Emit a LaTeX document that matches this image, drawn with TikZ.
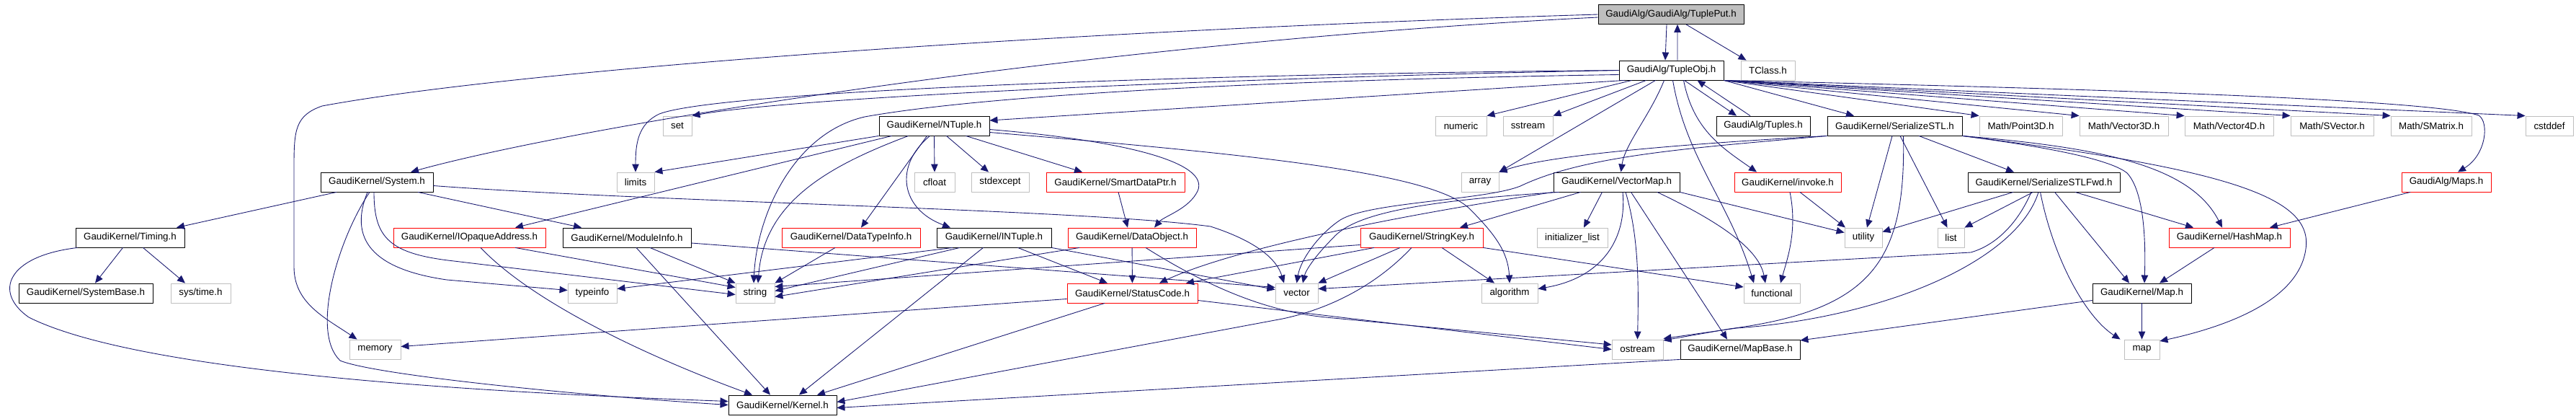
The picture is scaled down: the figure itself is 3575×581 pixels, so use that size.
\documentclass[tikz,border=0pt]{standalone}
\usepackage{fontspec}
\setmainfont{Liberation Sans}
\usetikzlibrary{arrows.meta}

\begin{document}
\begin{tikzpicture}[x=0.02cm,y=-0.02cm,line join=round,
    hdr/.style={draw=black,fill=white,line width=0.5pt,inner sep=0pt,
                minimum height=0.54cm,font=\fontsize{7.6}{9}\selectfont},
    hdrred/.style={hdr,draw=red},
    hdrsys/.style={hdr,draw=doxSys},
    hdrroot/.style={hdr,fill=doxSys},
    bw/.style={minimum width=#1*0.02cm},
    dep/.style={doxEdge,line width=0.5pt,-{Triangle[length=0.22cm,width=0.19cm]}}]
  \definecolor{doxEdge}{HTML}{191970}
  \definecolor{doxSys}{HTML}{BFBFBF}
  \useasboundingbox (0,0) rectangle (3575,581);

  % Root and first level.
  \node[hdrroot,bw=202] (tp) at (2319,20) {GaudiAlg/GaudiAlg/TuplePut.h};
  \node[hdr,bw=145] (tobj) at (2319.5,97.5) {GaudiAlg/TupleObj.h};
  \node[hdrsys,bw=75] (tclass) at (2453.5,97.5) {TClass.h};

  \node[hdrsys,bw=40] (set) at (940,174.5) {set};
  \node[hdr,bw=153] (ntuple) at (1296.5,174.5) {GaudiKernel/NTuple.h};
  \node[hdrsys,bw=71] (numeric) at (2027.5,174.5) {numeric};
  \node[hdrsys,bw=69] (sstream) at (2120.5,174.5) {sstream};
  \node[hdr,bw=130] (tuples) at (2447,174.5) {GaudiAlg/Tuples.h};
  \node[hdr,bw=187] (serstl) at (2629.5,174.5) {GaudiKernel/SerializeSTL.h};
  \node[hdrsys,bw=115] (point3d) at (2804.5,174.5) {Math/Point3D.h};
  \node[hdrsys,bw=123] (vec3d) at (2947.5,174.5) {Math/Vector3D.h};
  \node[hdrsys,bw=123] (vec4d) at (3093.5,174.5) {Math/Vector4D.h};
  \node[hdrsys,bw=115] (svector) at (3236.5,174.5) {Math/SVector.h};
  \node[hdrsys,bw=112] (smatrix) at (3374,174.5) {Math/SMatrix.h};
  \node[hdrsys,bw=66] (cstddef) at (3538,174.5) {cstddef};

  \node[hdr,bw=156] (system) at (523,252.5) {GaudiKernel/System.h};
  \node[hdrsys,bw=52] (limits) at (882,252.5) {limits};
  \node[hdrsys,bw=56] (cfloat) at (1297,252.5) {cfloat};
  \node[hdrsys,bw=80] (stdexcept) at (1388,252.5) {stdexcept};
  \node[hdrred,bw=192] (smartptr) at (1548,252.5) {GaudiKernel/SmartDataPtr.h};
  \node[hdrsys,bw=52] (array) at (2054,252.5) {array};
  \node[hdr,bw=175] (vecmap) at (2243.5,252.5) {GaudiKernel/VectorMap.h};
  \node[hdrred,bw=148] (invoke) at (2481,252.5) {GaudiKernel/invoke.h};
  \node[hdr,bw=211] (serfwd) at (2836.5,252.5) {GaudiKernel/SerializeSTLFwd.h};
  \node[hdrred,bw=124] (maps) at (3395,252.5) {GaudiAlg/Maps.h};

  \node[hdr,bw=151] (timing) at (180.5,329.5) {GaudiKernel/Timing.h};
  \node[hdrred,bw=211] (opaque) at (651.5,329.5) {GaudiKernel/IOpaqueAddress.h};
  \node[hdr,bw=178] (modinfo) at (870,329.5) {GaudiKernel/ModuleInfo.h};
  \node[hdrred,bw=192] (dtinfo) at (1181,329.5) {GaudiKernel/DataTypeInfo.h};
  \node[hdr,bw=159] (intuple) at (1379.5,329.5) {GaudiKernel/INTuple.h};
  \node[hdrred,bw=178] (dataobj) at (1571,329.5) {GaudiKernel/DataObject.h};
  \node[hdrred,bw=170] (strkey) at (1973,329.5) {GaudiKernel/StringKey.h};
  \node[hdrsys,bw=98] (initlist) at (2182,329.5) {initializer\_list};
  \node[hdrsys,bw=52] (utility) at (2586,329.5) {utility};
  \node[hdrsys,bw=37] (list) at (2707.5,329.5) {list};
  \node[hdrred,bw=168] (hashmap) at (3094,329.5) {GaudiKernel/HashMap.h};

  \node[hdr,bw=186] (sysbase) at (119,406.5) {GaudiKernel/SystemBase.h};
  \node[hdrsys,bw=83] (systime) at (278.5,406.5) {sys/time.h};
  \node[hdrsys,bw=68] (typeinfo) at (822,406.5) {typeinfo};
  \node[hdrsys,bw=54] (string) at (1048,406.5) {string};
  \node[hdrred,bw=181] (statcode) at (1571.5,406.5) {GaudiKernel/StatusCode.h};
  \node[hdrsys,bw=59] (vector) at (1799.5,406.5) {vector};
  \node[hdrsys,bw=78] (algorithm) at (2095,406.5) {algorithm};
  \node[hdrsys,bw=78] (functional) at (2459,406.5) {functional};
  \node[hdr,bw=137] (mapH) at (2972.5,406.5) {GaudiKernel/Map.h};

  \node[hdrsys,bw=71] (memory) at (520.5,484.5) {memory};
  \node[hdrsys,bw=71] (ostream) at (2272.5,484.5) {ostream};
  \node[hdr,bw=166] (mapbase) at (2415,484.5) {GaudiKernel/MapBase.h};
  \node[hdrsys,bw=49] (map) at (2972.5,484.5) {map};
  \node[hdr,bw=150] (kernel) at (1086,561.5) {GaudiKernel/Kernel.h};

  % TuplePut.h
  \draw[dep] ([xshift=-0.12cm]tp.south) -- ([xshift=-0.17cm]tobj.north);
  \draw[dep] ([xshift=0.17cm]tobj.north) -- ([xshift=0.18cm]tp.south);
  \draw[dep] ([xshift=0.42cm]tp.south) -- ([xshift=-0.6cm]tclass.north);
  \draw[dep] ([yshift=-0.08cm]tp.west) .. controls (1500,60) and (800,175) .. ([xshift=0.94cm]system.north);
  \draw[dep] (tp.west) .. controls (1400,45) and (700,100) .. (447,147)
    .. controls (410,160) and (408,180) .. (408,230) -- (408,370)
    .. controls (408,420) and (450,440) .. ([xshift=-0.5cm]memory.north);

  % TupleObj.h
  \draw[dep] (tobj.west) .. controls (1700,108) and (1100,135) .. (set.north east);
  \draw[dep] (tobj.west) .. controls (1700,102) and (1000,125) .. (915,158)
    .. controls (885,172) and (882,200) .. (limits.north);
  \draw[dep] ([yshift=-0.12cm]tobj.west) .. controls (1700,112) and (1350,135) .. (1200,162)
    .. controls (1100,185) and (1050,300) .. ([xshift=-0.04cm]string.north);
  \draw[dep] ([xshift=-1.3cm]tobj.south) -- ([yshift=0.15cm]ntuple.east);
  \draw[dep] ([xshift=-1.1cm]tobj.south) -- (numeric.north east);
  \draw[dep] ([xshift=-0.7cm]tobj.south) -- (sstream.north east);
  \draw[dep] ([xshift=-0.44cm]tobj.south) -- (array.north east);
  \draw[dep] ([xshift=-0.2cm]tobj.south) .. controls (2290,160) and (2255,200) .. ([xshift=0.12cm]vecmap.north);
  \draw[dep] ([xshift=0.36cm]tobj.south) -- ([xshift=-0.74cm]tuples.north);
  \draw[dep] ([xshift=-0.36cm]tuples.north) -- ([xshift=0.72cm]tobj.south);
  \draw[dep] ([xshift=0.04cm]tobj.south) .. controls (2340,220) and (2400,280) .. ([xshift=-0.5cm]functional.north);
  \draw[dep] ([xshift=0.34cm]tobj.south) .. controls (2350,180) and (2390,205) .. ([xshift=-0.86cm]invoke.north);
  \draw[dep] (tobj.south east) -- ([xshift=-1.13cm]serstl.north);
  \foreach \m in {point3d,vec3d,vec4d,svector,smatrix,cstddef}
    \draw[dep] (tobj.south east) -- (\m.north west);
  \draw[dep] (tobj.south east) .. controls (3000,125) and (3380,140) .. (3440,160)
    .. controls (3455,170) and (3450,215) .. ([xshift=0.32cm]maps.north);

  % NTuple.h
  \draw[dep] (ntuple.south west) -- (limits.north east);
  \draw[dep] ([xshift=0.36cm]ntuple.south west) -- ([xshift=1.27cm]opaque.north);
  \draw[dep] ([xshift=0.82cm]ntuple.south west) .. controls (1150,230) and (1060,280) .. ([xshift=0.08cm]string.north);
  \draw[dep] ([xshift=-0.2cm]ntuple.south) -- ([xshift=0.28cm]dtinfo.north);
  \draw[dep] ([xshift=-0.12cm]ntuple.south) .. controls (1240,230) and (1250,290) .. ([xshift=-1.21cm]intuple.north);
  \draw[dep] (ntuple.south) -- (cfloat.north);
  \draw[dep] ([xshift=0.34cm]ntuple.south) -- ([xshift=-0.32cm]stdexcept.north);
  \draw[dep] ([xshift=0.88cm]ntuple.south) -- ([xshift=-0.92cm]smartptr.north);
  \draw[dep] ([yshift=-0.1cm]ntuple.east) .. controls (1560,195) and (1680,225) .. (1662,265)
    .. controls (1650,290) and (1615,300) .. ([xshift=0.62cm]dataobj.north);
  \draw[dep] ([yshift=-0.18cm]ntuple.east) .. controls (1750,215) and (1990,240) .. (2040,290)
    .. controls (2075,325) and (2093,350) .. (algorithm.north);

  % System.h and Timing.h
  \draw[dep] ([xshift=-1.12cm]system.south) -- ([xshift=1.29cm]timing.north);
  \draw[dep] ([xshift=-0.2cm]system.south) .. controls (470,330) and (430,460) .. (472,500)
    .. controls (520,520) and (800,548) .. (kernel.west);
  \draw[dep] ([xshift=-0.26cm]system.south) .. controls (480,340) and (530,375) .. (620,388)
    -- ([yshift=0.08cm]typeinfo.west);
  \draw[dep] ([xshift=-0.08cm]system.south) .. controls (519,330) and (540,352) .. (630,362)
    -- ([yshift=-0.04cm]string.west);
  \draw[dep] ([xshift=1.14cm]system.south) -- ([xshift=-1.26cm]modinfo.north);
  \draw[dep] ([yshift=-0.1cm]system.east) .. controls (900,280) and (1500,290) .. (1680,314)
    .. controls (1745,335) and (1772,360) .. ([xshift=-0.35cm]vector.north);
  \draw[dep] ([xshift=-0.2cm]timing.south) -- ([xshift=0.26cm]sysbase.north);
  \draw[dep] ([xshift=0.36cm]timing.south) -- ([xshift=-0.43cm]systime.north);
  \draw[dep] ([xshift=-1.46cm]timing.south) .. controls (10,355) and (-10,405) .. (40,440)
    .. controls (200,520) and (700,545) .. ([yshift=0.1cm]kernel.west);

  % Kernel headers, row by row
  \draw[dep] ([xshift=0.31cm]opaque.south) .. controls (740,420) and (900,495) .. ([xshift=-0.84cm]kernel.north);
  \draw[dep] ([xshift=1.27cm]opaque.south) -- ([yshift=0.16cm]string.west);
  \draw[dep] ([xshift=0.64cm]modinfo.south) -- (string.north west);
  \draw[dep] ([xshift=0.26cm]modinfo.south) -- ([xshift=-0.34cm]kernel.north);
  \draw[dep] ([yshift=-0.15cm]modinfo.east) -- ([yshift=0.16cm]vector.west);
  \draw[dep] ([xshift=-0.44cm]dtinfo.south) -- (string.north east);
  \draw[dep] ([xshift=-1.15cm]intuple.south) -- ([yshift=0.12cm]typeinfo.east);
  \draw[dep] ([xshift=-0.95cm]intuple.south) -- ([yshift=0.06cm]string.east);
  \draw[dep] ([xshift=0.66cm]intuple.south) -- ([xshift=-0.69cm]statcode.north);
  \draw[dep] ([xshift=-0.3cm]intuple.south) -- ([xshift=0.46cm]kernel.north);
  \draw[dep] (intuple.south east) -- ([yshift=0.1cm]vector.west);
  \draw[dep] ([xshift=0.08cm]smartptr.south) -- ([xshift=-0.12cm]dataobj.north);
  \draw[dep] (dataobj) -- (statcode);
  \draw[dep] ([xshift=-1.46cm]dataobj.south) -- ([yshift=-0.1cm]string.east);
  \draw[dep] ([xshift=0.38cm]dataobj.south) .. controls (1680,400) and (1760,432) .. (1840,440)
    -- ([yshift=0.13cm]ostream.west);
  \draw[dep] ([yshift=-0.16cm]statcode.west) -- ([yshift=0.08cm]memory.east);
  \draw[dep] ([xshift=-0.77cm]statcode.south) -- ([xshift=0.96cm]kernel.north);
  \draw[dep] ([yshift=-0.2cm]statcode.east) -- (ostream.west);

  % StringKey.h, VectorMap.h, invoke.h
  \draw[dep] ([xshift=-0.6cm]strkey.south) -- (vector.north east);
  \draw[dep] ([xshift=0.56cm]strkey.south) -- ([xshift=-0.42cm]algorithm.north);
  \draw[dep] ([xshift=-0.28cm]strkey.south) .. controls (1920,385) and (1860,425) .. (1780,442)
    -- ([yshift=0.08cm]kernel.east);
  \draw[dep] ([yshift=-0.2cm]strkey.west) -- ([yshift=0.18cm]string.east);
  \draw[dep] ([xshift=-1.32cm]strkey.south) -- ([xshift=1.49cm]statcode.north);
  \draw[dep] (strkey.south east) -- ([yshift=0.17cm]functional.west);
  \draw[dep] ([xshift=-1.0cm]vecmap.south) -- ([xshift=1.06cm]strkey.north);
  \draw[dep] ([xshift=-0.4cm]vecmap.south) -- ([xshift=0.32cm]initlist.north);
  \draw[dep] ([xshift=0.17cm]vecmap.south) .. controls (2258,330) and (2225,385) .. ([yshift=0.12cm]algorithm.east);
  \draw[dep] ([xshift=0.25cm]vecmap.south) .. controls (2275,330) and (2274,400) .. (ostream.north);
  \draw[dep] ([xshift=0.4cm]vecmap.south) -- ([xshift=-0.36cm]mapbase.north);
  \draw[dep] ([xshift=1.13cm]vecmap.south) .. controls (2370,300) and (2440,340) .. ([xshift=-0.18cm]functional.north);
  \draw[dep] (vecmap.south east) -- ([yshift=0.14cm]utility.west);
  \draw[dep] ([xshift=-1.6cm]vecmap.south) .. controls (1980,278) and (1880,295) .. (1850,330)
    .. controls (1825,355) and (1812,375) .. ([xshift=0.17cm]vector.north);
  \draw[dep] (vecmap.south west) .. controls (1900,305) and (1700,350) .. ([xshift=0.75cm]statcode.north);
  \draw[dep] ([xshift=0.06cm]invoke.south) .. controls (2495,320) and (2480,360) .. ([xshift=0.24cm]functional.north);
  \draw[dep] ([xshift=0.34cm]invoke.south) -- ([xshift=-0.5cm]utility.north);

  % SerializeSTL.h and SerializeSTLFwd.h
  \draw[dep] (serstl.south west) .. controls (2330,200) and (2150,215) .. (array.north east);
  \draw[dep] (serstl.south west) .. controls (2350,205) and (2200,215) .. (2110,258)
    .. controls (2060,278) and (1900,280) .. (1860,305)
    .. controls (1830,325) and (1805,360) .. (vector.north);
  \draw[dep] ([xshift=-0.07cm]serstl.south) -- ([xshift=0.1cm]utility.north);
  \draw[dep] ([xshift=0.15cm]serstl.south) -- ([xshift=-0.1cm]list.north);
  \draw[dep] ([xshift=0.24cm]serstl.south) .. controls (2645,360) and (2600,430) .. (2400,456)
    -- ([yshift=0.25cm]ostream.east);
  \draw[dep] ([xshift=0.67cm]serstl.south) -- ([xshift=-0.83cm]serfwd.north);
  \draw[dep] (serstl.south east) .. controls (2920,205) and (3040,230) .. ([xshift=-0.2cm]hashmap.north);
  \draw[dep] (serstl.south east) .. controls (3100,235) and (3210,275) .. (3200,345)
    .. controls (3190,420) and (3080,455) .. ([yshift=0.23cm]map.east);
  \draw[dep] (serstl.south east) .. controls (2850,205) and (2930,222) .. (2952,240)
    .. controls (2975,265) and (2978,330) .. ([xshift=0.07cm]mapH.north);
  \draw[dep] ([xshift=-0.85cm]serfwd.south) -- ([yshift=0.16cm]utility.east);
  \draw[dep] ([xshift=-0.3cm]serfwd.south) -- (list.north east);
  \draw[dep] ([xshift=-0.35cm]serfwd.south) .. controls (2800,310) and (2770,340) .. (2735,350)
    -- ([yshift=0.12cm]vector.east);
  \draw[dep] ([xshift=-0.15cm]serfwd.south) .. controls (2800,360) and (2620,440) .. (2410,455)
    -- ([yshift=0.3cm]ostream.east);
  \draw[dep] ([xshift=-0.1cm]serfwd.south) .. controls (2850,360) and (2895,440) .. ([xshift=-0.6cm]map.north);
  \draw[dep] ([xshift=0.3cm]serfwd.south) -- ([xshift=-0.35cm]mapH.north);
  \draw[dep] ([xshift=0.87cm]serfwd.south) -- ([xshift=-1.0cm]hashmap.north);

  % Maps and MapBase
  \draw[dep] ([xshift=-1.0cm]maps.south) -- ([xshift=1.12cm]hashmap.north);
  \draw[dep] ([xshift=-0.42cm]hashmap.south) -- ([xshift=0.49cm]mapH.north);
  \draw[dep] (mapH) -- (map);
  \draw[dep] ([yshift=-0.2cm]mapH.west) -- ([yshift=0.25cm]mapbase.east);
  \draw[dep] (mapbase.south west) -- ([yshift=-0.08cm]kernel.east);
\end{tikzpicture}
\end{document}
